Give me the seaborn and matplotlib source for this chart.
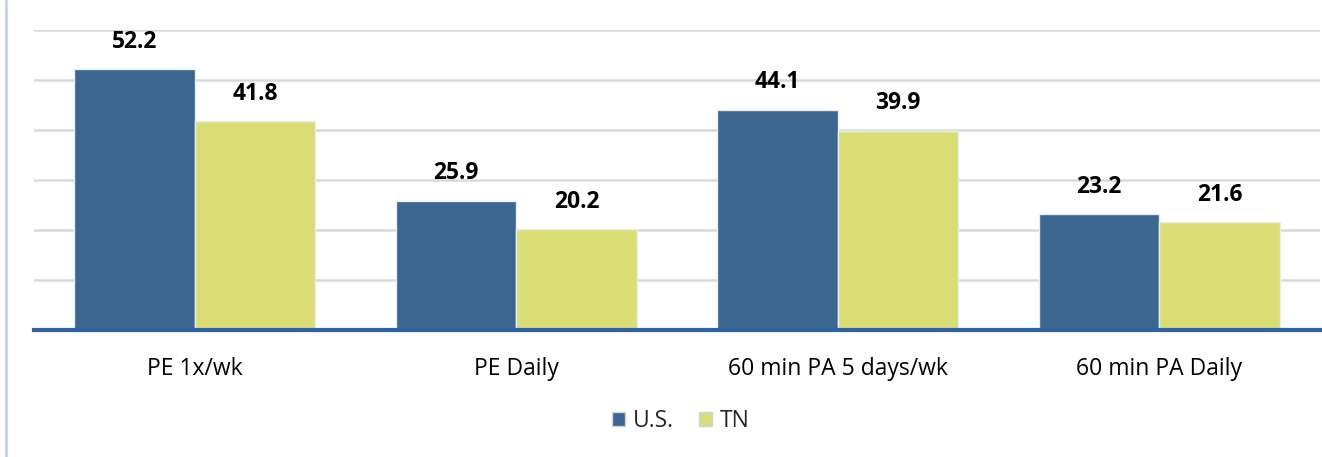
import pandas as pd
import matplotlib.pyplot as plt
import seaborn as sns
from matplotlib.lines import Line2D

# Chart values
categories = ['PE 1x/wk', 'PE Daily', '60 min PA 5 days/wk', '60 min PA Daily']
us_values = [52.2, 25.9, 44.1, 23.2]
tn_values = [41.8, 20.2, 39.9, 21.6]
series = ['U.S.', 'TN']

df = pd.DataFrame({
    'Category': categories * 2,
    'Value': us_values + tn_values,
    'Group': [series[0]] * len(categories) + [series[1]] * len(categories),
})

sns.set_style('white')
plt.rcParams['font.family'] = ['Open Sans', 'DejaVu Sans']

fig = plt.figure(figsize=(13.22, 4.57), dpi=100)
ax = fig.add_axes([0.0257, 0.278, 0.9728, 0.656])

palette = {'U.S.': '#3a6690', 'TN': '#d9dd73'}
sns.barplot(data=df, x='Category', y='Value', hue='Group', order=categories,
            hue_order=series, palette=palette, width=0.75, saturation=1,
            edgecolor='#e8eef4', linewidth=1, ax=ax, legend=False, zorder=3)

for cont in ax.containers:
    ax.bar_label(cont, fmt='%.1f', padding=11, fontsize=16.5, fontweight='bold',
                 color='black', clip_on=False)

ax.set_ylim(0, 60)
ax.set_xlim(-0.5, len(categories) - 0.5)
ax.set_yticks([10, 20, 30, 40, 50, 60])
ax.yaxis.grid(True, color='#d9d9d9', linewidth=1.8)
ax.set_axisbelow(True)
ax.tick_params(axis='y', left=False, labelleft=False)
ax.tick_params(axis='x', bottom=False, labelsize=16.5, pad=16, labelcolor='black')
ax.set_xlabel('')
ax.set_ylabel('')
for s in ['top', 'right', 'left']:
    ax.spines[s].set_visible(False)
ax.spines['bottom'].set_color('#3060a8')
ax.spines['bottom'].set_linewidth(3)
ax.spines['bottom'].set_zorder(5)

handles = [plt.Rectangle((0, 0), 1, 1, facecolor=palette[s], edgecolor='#c8d4e0') for s in series]
fig.legend(handles, series, loc='center', bbox_to_anchor=(0.515, 0.078), ncol=2,
           frameon=False, fontsize=16.5, handlelength=0.55, handleheight=0.55,
           handletextpad=0.35, columnspacing=1.1)

# light blue border line on the left
fig.add_artist(Line2D([0.0045, 0.0045], [0, 1], color='#bcd0ea', linewidth=1.8,
                      transform=fig.transFigure))

fig.savefig('out.png', dpi=100)
